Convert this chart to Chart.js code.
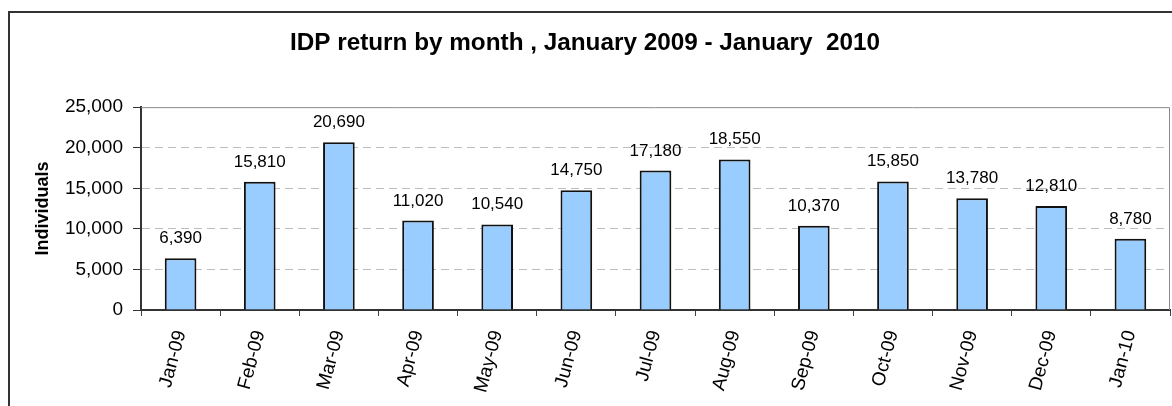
<!DOCTYPE html>
<html>
<head>
<meta charset="utf-8">
<script src="https://cdn.jsdelivr.net/npm/chart.js@4.4.1/dist/chart.umd.min.js"></script>
<style>
  html, body { margin: 0; padding: 0; background: #fff; overflow: hidden; }
  #wrap { position: relative; width: 1172px; height: 406px; }
  #frame { position: absolute; left: 8px; top: 11px; width: 1200px; height: 500px; border: 2px solid #333; pointer-events: none; }
</style>
</head>
<body>
<div id="wrap">
  <canvas id="chart" width="1172" height="406"></canvas>
  <div id="frame"></div>
</div>
<script>
const months = ['Jan-09', 'Feb-09', 'Mar-09', 'Apr-09', 'May-09', 'Jun-09', 'Jul-09', 'Aug-09', 'Sep-09', 'Oct-09', 'Nov-09', 'Dec-09', 'Jan-10'];
const individuals = [6390, 15810, 20690, 11020, 10540, 14750, 17180, 18550, 10370, 15850, 13780, 12810, 8780];
const yTicks = [0, 5000, 10000, 15000, 20000, 25000];

const FONT = '"Liberation Sans", Arial, sans-serif';
const fmt = v => v.toLocaleString('en-US');

// value labels above each bar
const barLabels = {
    id: 'barLabels',
    afterDatasetsDraw(chart) {
        const ctx = chart.ctx;
        const meta = chart.getDatasetMeta(0);
        ctx.save();
        ctx.font = '17px ' + FONT;
        ctx.fillStyle = '#000';
        ctx.textAlign = 'center';
        ctx.textBaseline = 'alphabetic';
        meta.data.forEach((bar, i) => {
            ctx.fillText(fmt(individuals[i]), bar.x, bar.y - 15);
        });
        ctx.restore();
    }
};

// grey frame on top and right of the plot area
const plotFrame = {
    id: 'plotFrame',
    beforeDatasetsDraw(chart) {
        const { ctx, chartArea: a } = chart;
        ctx.save();
        ctx.strokeStyle = '#8a8a8a';
        ctx.lineWidth = 1;
        ctx.beginPath();
        ctx.moveTo(a.left, a.top + 0.5);
        ctx.lineTo(a.right - 0.5, a.top + 0.5);
        ctx.lineTo(a.right - 0.5, a.bottom);
        ctx.stroke();
        ctx.restore();
    }
};

new Chart(document.getElementById('chart'), {
    type: 'bar',
    data: {
        labels: months,
        datasets: [{
            data: individuals,
            backgroundColor: '#99CCFF',
            borderColor: '#111',
            borderWidth: 2,
            barPercentage: 0.4,
            categoryPercentage: 1.0
        }]
    },
    options: {
        responsive: false,
        animation: false,
        layout: { padding: { left: 0, right: 2, top: 0, bottom: 0 } },
        plugins: {
            legend: { display: false },
            tooltip: { enabled: false },
            title: {
                display: true,
                text: 'IDP return by month , January 2009 - January  2010',
                color: '#000',
                font: { family: FONT, size: 24.3, weight: 'bold' },
                padding: { top: 29, bottom: 49 }
            }
        },
        scales: {
            x: {
                afterFit: s => { s.height = 96; },
                grid: { drawOnChartArea: false, tickLength: 6, color: '#444', offset: true },
                border: { color: '#333', width: 2 },
                ticks: {
                    color: '#000', font: { family: FONT, size: 19 },
                    minRotation: 75, maxRotation: 75, padding: 12, autoSkip: false
                }
            },
            y: {
                min: 0,
                max: 25000,
                afterFit: s => { s.width = 141; },
                afterBuildTicks: s => { s.ticks = yTicks.map(v => ({ value: v })); },
                grid: {
                    color: c => (c.tick && (c.tick.value === 0 || c.tick.value === 25000)) ? 'rgba(0,0,0,0)' : '#bdbdbd',
                    tickColor: '#333',
                    tickLength: 8,
                    tickBorderDash: []
                },
                border: { color: '#333', width: 2, dash: [8, 5] },
                ticks: {
                    color: '#000', font: { family: FONT, size: 19 }, padding: 10,
                    callback: v => fmt(v)
                },
                title: {
                    display: true,
                    text: 'Individuals',
                    color: '#000',
                    font: { family: FONT, size: 18, weight: 'bold' },
                    padding: { top: 32, bottom: 0 }
                }
            }
        }
    },
    plugins: [plotFrame, barLabels]
});
</script>
</body>
</html>
